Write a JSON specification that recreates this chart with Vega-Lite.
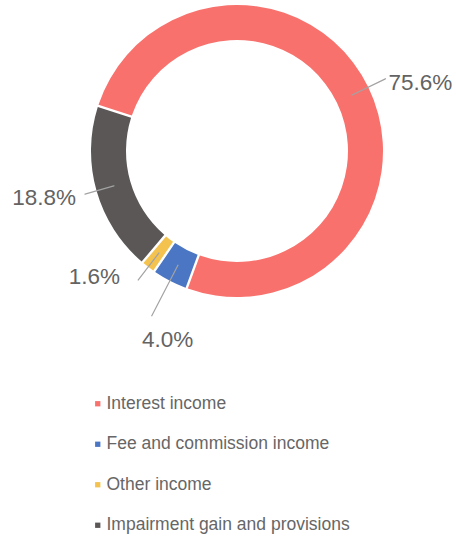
{
  "$schema": "https://vega.github.io/schema/vega-lite/v6.json",
  "width": 456,
  "height": 538,
  "autosize": {"type": "none"},
  "padding": 0,
  "background": "white",
  "config": {
    "view": {"stroke": null},
    "legend": {
      "labelFont": "Liberation Sans",
      "labelFontSize": 17.5,
      "labelColor": "#666666",
      "labelLimit": 400,
      "symbolType": "square",
      "symbolSize": 28,
      "symbolStrokeWidth": 0,
      "rowPadding": 21.5,
      "labelOffset": 0,
      "padding": 0
    }
  },
  "data": {
    "values": [
      {"category": "Interest income", "share": 0.756, "rank": 1},
      {"category": "Fee and commission income", "share": 0.040, "rank": 2},
      {"category": "Other income", "share": 0.016, "rank": 3},
      {"category": "Impairment gain and provisions", "share": 0.188, "rank": 4}
    ]
  },
  "encoding": {
    "x": {"datum": 0, "type": "quantitative", "scale": {"domain": [-237, 219], "nice": false, "zero": false}, "axis": null},
    "y": {"datum": 0, "type": "quantitative", "scale": {"domain": [-387, 151], "nice": false, "zero": false}, "axis": null}
  },
  "layer": [
    {
      "mark": {"type": "arc", "innerRadius": 111, "outerRadius": 146, "padAngle": 0.013},
      "encoding": {
        "theta": {"field": "share", "type": "quantitative", "stack": true, "scale": {"domain": [0, 1], "range": [-1.2566, 5.0265]}},
        "order": {"field": "rank", "type": "quantitative"},
        "color": {
          "field": "category",
          "type": "nominal",
          "scale": {
            "domain": ["Interest income", "Fee and commission income", "Other income", "Impairment gain and provisions"],
            "range": ["#f8716c", "#4a76c4", "#f3c24f", "#5b5757"]
          },
          "legend": {"title": null, "orient": "none", "legendX": 89, "legendY": 395, "direction": "vertical"}
        }
      }
    },
    {
      "transform": [
        {"stack": "share", "groupby": [], "sort": [{"field": "rank", "order": "ascending"}], "as": ["s0", "s1"]},
        {"filter": "datum.category === 'Interest income'"}
      ],
      "mark": {"type": "arc", "innerRadius": 128, "outerRadius": 165, "thetaOffset": 2.3750, "theta2Offset": -2.3750, "stroke": "#a3a3a3", "strokeWidth": 1.2, "fillOpacity": 0},
      "encoding": {
        "theta": {"field": "s0", "type": "quantitative"},
        "theta2": {"field": "s1"}
      }
    },
    {
      "transform": [
        {"stack": "share", "groupby": [], "sort": [{"field": "rank", "order": "ascending"}], "as": ["s0", "s1"]},
        {"filter": "datum.category === 'Fee and commission income'"}
      ],
      "mark": {"type": "arc", "innerRadius": 128, "outerRadius": 186, "thetaOffset": 0.12566, "theta2Offset": -0.12566, "stroke": "#a3a3a3", "strokeWidth": 1.2, "fillOpacity": 0},
      "encoding": {
        "theta": {"field": "s0", "type": "quantitative"},
        "theta2": {"field": "s1"}
      }
    },
    {
      "transform": [
        {"stack": "share", "groupby": [], "sort": [{"field": "rank", "order": "ascending"}], "as": ["s0", "s1"]},
        {"filter": "datum.category === 'Other income'"}
      ],
      "mark": {"type": "arc", "innerRadius": 128, "outerRadius": 163, "thetaOffset": 0.050265, "theta2Offset": -0.050265, "stroke": "#a3a3a3", "strokeWidth": 1.2, "fillOpacity": 0},
      "encoding": {
        "theta": {"field": "s0", "type": "quantitative"},
        "theta2": {"field": "s1"}
      }
    },
    {
      "transform": [
        {"stack": "share", "groupby": [], "sort": [{"field": "rank", "order": "ascending"}], "as": ["s0", "s1"]},
        {"filter": "datum.category === 'Impairment gain and provisions'"}
      ],
      "mark": {"type": "arc", "innerRadius": 128, "outerRadius": 158, "thetaOffset": 0.59062, "theta2Offset": -0.59062, "stroke": "#a3a3a3", "strokeWidth": 1.2, "fillOpacity": 0},
      "encoding": {
        "theta": {"field": "s0", "type": "quantitative"},
        "theta2": {"field": "s1"}
      }
    },
    {
      "mark": {"type": "text", "radius": 165, "align": "left", "baseline": "middle", "dx": 3, "dy": 4, "font": "Liberation Sans", "fontSize": 22.5, "color": "#636363"},
      "encoding": {
        "theta": {"field": "share", "type": "quantitative", "stack": true},
        "order": {"field": "rank", "type": "quantitative"},
        "detail": {"field": "category"},
        "text": {"condition": {"test": "datum.category === 'Interest income'", "field": "share", "type": "quantitative", "format": ".1%"}, "value": ""}
      }
    },
    {
      "mark": {"type": "text", "radius": 186, "align": "center", "baseline": "top", "dx": 16, "dy": 13, "font": "Liberation Sans", "fontSize": 22.5, "color": "#636363"},
      "encoding": {
        "theta": {"field": "share", "type": "quantitative", "stack": true},
        "order": {"field": "rank", "type": "quantitative"},
        "detail": {"field": "category"},
        "text": {"condition": {"test": "datum.category === 'Fee and commission income'", "field": "share", "type": "quantitative", "format": ".1%"}, "value": ""}
      }
    },
    {
      "mark": {"type": "text", "radius": 161, "align": "right", "baseline": "middle", "dx": -19, "dy": -2, "font": "Liberation Sans", "fontSize": 22.5, "color": "#636363"},
      "encoding": {
        "theta": {"field": "share", "type": "quantitative", "stack": true},
        "order": {"field": "rank", "type": "quantitative"},
        "detail": {"field": "category"},
        "text": {"condition": {"test": "datum.category === 'Other income'", "field": "share", "type": "quantitative", "format": ".1%"}, "value": ""}
      }
    },
    {
      "mark": {"type": "text", "radius": 158, "align": "right", "baseline": "middle", "dx": -9, "dy": 4, "font": "Liberation Sans", "fontSize": 22.5, "color": "#636363"},
      "encoding": {
        "theta": {"field": "share", "type": "quantitative", "stack": true},
        "order": {"field": "rank", "type": "quantitative"},
        "detail": {"field": "category"},
        "text": {"condition": {"test": "datum.category === 'Impairment gain and provisions'", "field": "share", "type": "quantitative", "format": ".1%"}, "value": ""}
      }
    }
  ]
}
